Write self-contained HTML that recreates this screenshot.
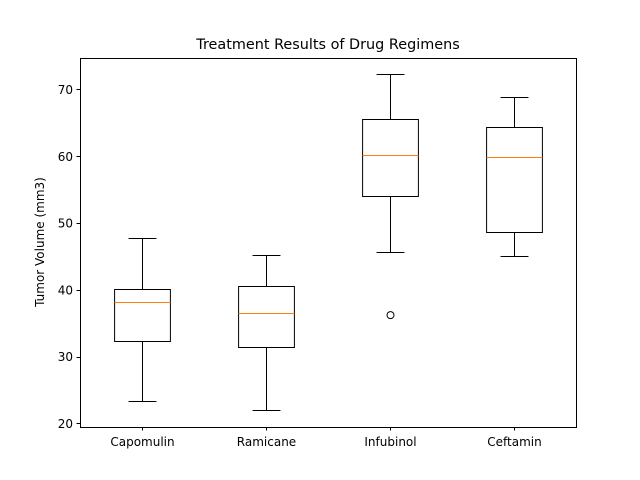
<!DOCTYPE html>
<html><head><meta charset="utf-8"><style>
html,body{margin:0;padding:0;background:#fff;}
svg{display:block;font-family:"DejaVu Sans","Liberation Sans",sans-serif;}
</style></head><body>
<svg id="chart" width="640" height="480"></svg>
<script>
const categories=["Capomulin","Ramicane","Infubinol","Ceftamin"];
const whiskerLow=[23.3,22.05,45.7,45.0];
const q1=[32.4,31.5,54.05,48.7];
const medians=[38.2,36.6,60.2,59.9];
const q3=[40.2,40.65,65.6,64.35];
const whiskerHigh=[47.7,45.25,72.3,68.95];
const outliers=[[],[],[36.3],[]];
const yTicks=[20,30,40,50,60,70];

const NS="http://www.w3.org/2000/svg";
const svg=document.getElementById('chart');
const L=80,R=576,T=58,B=427;
const yMin=19.55,yMax=74.79;
const y=v=>B-(v-yMin)/(yMax-yMin)*(B-T);
const ys=v=>Math.round(y(v)-0.5)+0.5;
const x=i=>L+(i+1-0.5)/4*(R-L);
function el(tag,attrs,parent){const e=document.createElementNS(NS,tag);for(const k in attrs)e.setAttribute(k,attrs[k]);(parent||svg).appendChild(e);return e;}
function line(x1,y1,x2,y2,stroke,g){return el('line',{x1,y1,x2,y2,stroke,'stroke-width':1},g);}

const title=el('text',{x:328,y:49,'text-anchor':'middle','font-size':14.4,fill:'#000'});
title.textContent="Treatment Results of Drug Regimens";



const yl=el('text',{transform:'translate(44,242) rotate(-90)','text-anchor':'middle','font-size':12,fill:'#000'});
yl.textContent="Tumor Volume (mm3)";



yTicks.forEach(t=>{
  const g=el('g',{});
  
  
  line(L-3.5,ys(t),L,ys(t),'#000',g);
  const tx=el('text',{x:L-7,y:y(t)+4,'text-anchor':'end','font-size':12,fill:'#000'},g);
  tx.textContent=t;
});

const hw=0.225/4*(R-L), cw=hw/2;
categories.forEach((c,i)=>{
  const cx=Math.round(x(i))+0.5;
  const g=el('g',{});
  
  
  line(cx,ys(whiskerLow[i]),cx,ys(q1[i]),'#000',g);
  line(cx,ys(q3[i]),cx,ys(whiskerHigh[i]),'#000',g);
  line(cx-cw,ys(whiskerLow[i]),cx+cw,ys(whiskerLow[i]),'#000',g);
  line(cx-cw,ys(whiskerHigh[i]),cx+cw,ys(whiskerHigh[i]),'#000',g);
  el('rect',{x:cx-hw,y:ys(q3[i]),width:2*hw,height:ys(q1[i])-ys(q3[i]),fill:'none',stroke:'#000','stroke-width':1},g);
  line(cx-hw,ys(medians[i]),cx+hw,ys(medians[i]),'#ff7f0e',g);
  outliers[i].forEach(o=>{
    const ci=el('circle',{cx:cx,cy:y(o),r:3.5,fill:'none',stroke:'#000','stroke-width':1},g);
    
    
  });
  line(cx,B,cx,B+3.5,'#000',g);
  const tx=el('text',{x:cx,y:B+19,'text-anchor':'middle','font-size':12,fill:'#000'},g);
  tx.textContent=c;
});

const frame=el('rect',{x:L+0.5,y:T+0.5,width:R-L,height:B-T,fill:'none',stroke:'#000','stroke-width':1});


</script>
</body></html>
